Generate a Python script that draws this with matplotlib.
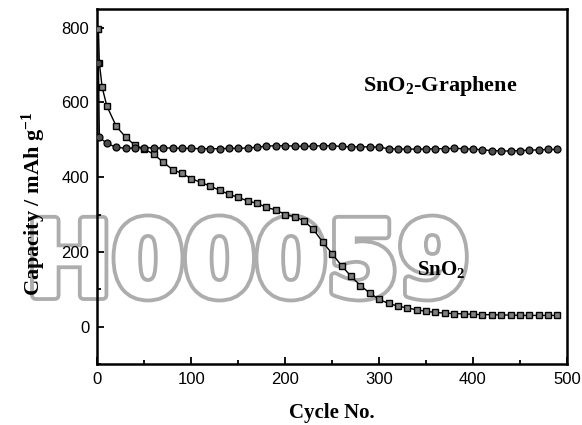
import matplotlib
matplotlib.use("Agg")
import matplotlib.pyplot as plt
import matplotlib.patheffects as pe
from matplotlib.ticker import MultipleLocator

# ---- data ----
g_cycles = [1, 2, 10, 20, 30, 40, 50, 60, 70, 80, 90, 100, 110, 120, 130, 140, 150,
            160, 170, 180, 190, 200, 210, 220, 230, 240, 250, 260, 270, 280, 290, 300,
            310, 320, 330, 340, 350, 360, 370, 380, 390, 400, 410, 420, 430, 440, 450,
            460, 470, 480, 490]
g_capacity = [705, 507, 490, 480, 477, 478, 479, 478, 478, 478, 477, 477, 476, 476, 476,
              477, 477, 478, 480, 483, 484, 484, 483, 482, 483, 484, 484, 482, 481, 481,
              481, 480, 476, 475, 475, 475, 475, 476, 476, 477, 476, 475, 473, 471, 470,
              470, 471, 472, 473, 474, 474]

s_cycles = [1, 2, 5, 10, 20, 30, 40, 50, 60, 70, 80, 90, 100, 110, 120, 130, 140, 150,
            160, 170, 180, 190, 200, 210, 220, 230, 240, 250, 260, 270, 280, 290, 300,
            310, 320, 330, 340, 350, 360, 370, 380, 390, 400, 410, 420, 430, 440, 450,
            460, 470, 480, 490]
s_capacity = [795, 705, 640, 590, 536, 507, 485, 475, 461, 440, 420, 410, 396, 386, 376,
              365, 354, 346, 336, 330, 319, 312, 300, 294, 283, 260, 226, 195, 163, 135,
              110, 90, 73, 62, 55, 50, 45, 41, 38, 36, 35, 34, 33, 32, 32, 31, 31, 30,
              30, 30, 30, 30]

x_ticks = [0, 100, 200, 300, 400, 500]
y_ticks = [0, 200, 400, 600, 800]
x_label = "Cycle No."
y_label = r"Capacity / mAh g$^{\mathbf{-1}}$"
label_graphene = r"SnO$_\mathbf{2}$-Graphene"
label_sno2 = r"SnO$_\mathbf{2}$"
watermark = "H00059"

plt.rcParams["mathtext.fontset"] = "custom"
plt.rcParams["mathtext.rm"] = "Liberation Serif:bold"
plt.rcParams["mathtext.bf"] = "Liberation Serif:bold"
plt.rcParams["mathtext.it"] = "Liberation Serif:bold"
plt.rcParams["mathtext.default"] = "bf"

fig = plt.figure(figsize=(5.82, 4.25), dpi=100)
ax = fig.add_axes([0.1675, 0.1435, 0.8065, 0.8355])
ax.patch.set_visible(False)

# watermark behind the axes
fig.text(0.045, 0.305, watermark, fontsize=74, fontweight="bold",
         family="DejaVu Sans", color="white", zorder=-1, ha="left", va="baseline",
         path_effects=[pe.Stroke(linewidth=8, foreground="0.68"),
                       pe.Stroke(linewidth=2.5, foreground="white")])

ax.plot(s_cycles, s_capacity, color="black", lw=1.0, marker="s", ms=4.6,
        mfc="0.5", mec="black", mew=1.0, zorder=3)
ax.plot(g_cycles, g_capacity, color="black", lw=1.0, marker="o", ms=5.0,
        mfc="0.3", mec="black", mew=0.9, zorder=3)

ax.set_xlim(0, 500)
ax.set_ylim(-100, 850)
ax.set_xticks(x_ticks)
ax.set_yticks(y_ticks)
ax.xaxis.set_minor_locator(MultipleLocator(50))
ax.yaxis.set_minor_locator(MultipleLocator(100))
ax.tick_params(which="both", direction="in", top=False, right=False, width=1.3)
ax.tick_params(which="major", length=5, labelsize=12, pad=6)
ax.tick_params(which="minor", length=3)
for lab in ax.get_xticklabels() + ax.get_yticklabels():
    lab.set_family("Liberation Sans")
for sp in ax.spines.values():
    sp.set_linewidth(1.8)

ax.set_xlabel(x_label, family="Liberation Serif", fontweight="bold", fontsize=15)
ax.set_ylabel(y_label, family="Liberation Serif", fontweight="bold", fontsize=16)
ax.xaxis.set_label_coords(0.5, -0.11)
ax.yaxis.set_label_coords(-0.105, 0.45)

ax.text(283, 645, label_graphene, family="Liberation Serif", fontweight="bold",
        fontsize=16, ha="left", va="center", zorder=4)
ax.text(340, 152, label_sno2, family="Liberation Serif", fontweight="bold",
        fontsize=15, ha="left", va="center", zorder=4)

fig.savefig("out.png", dpi=100)
